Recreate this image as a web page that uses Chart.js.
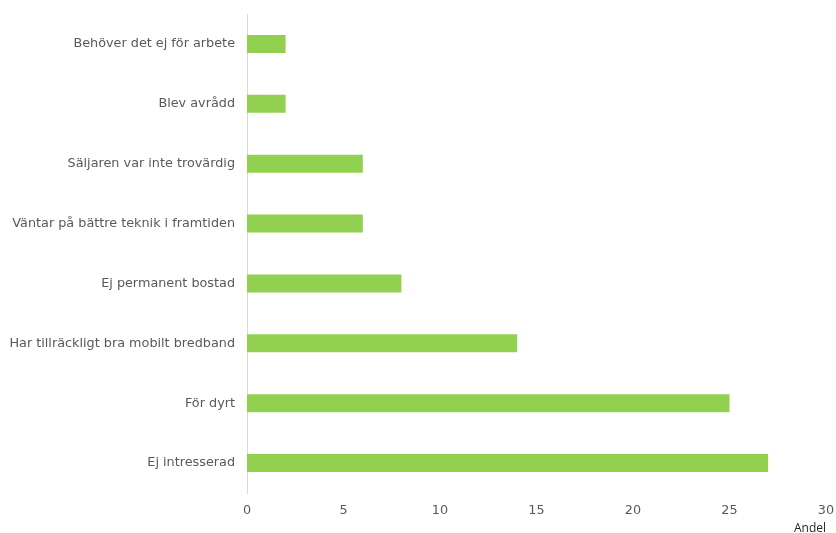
<!DOCTYPE html>
<html>
<head>
<meta charset="utf-8">
<script src="https://cdn.jsdelivr.net/npm/chart.js@4"></script>
<style>
  html, body { margin: 0; padding: 0; background: #fff; }
  #wrap { width: 836px; height: 533px; }
</style>
</head>
<body>
<div id="wrap"><canvas id="chart"></canvas></div>
<script>
// data
const categories = [
  "Behöver det ej för arbete",
  "Blev avrådd",
  "Säljaren var inte trovärdig",
  "Väntar på bättre teknik i framtiden",
  "Ej permanent bostad",
  "Har tillräckligt bra mobilt bredband",
  "För dyrt",
  "Ej intresserad"
];
const andel = [2, 2, 6, 6, 8, 14, 25, 27];
const xTicks = [0, 5, 10, 15, 20, 25, 30];

const labelFont = { family: "'DejaVu Sans', Verdana, sans-serif", size: 12.8 };

new Chart(document.getElementById("chart"), {
  type: "bar",
  data: {
    labels: categories,
    datasets: [{
      label: "Andel",
      data: andel,
      backgroundColor: "#92d050",
      barPercentage: 0.3,
      categoryPercentage: 1
    }]
  },
  options: {
    indexAxis: "y",
    responsive: true,
    maintainAspectRatio: false,
    animation: false,
    layout: { padding: { top: 14, right: 10, bottom: 0, left: 0 } },
    plugins: { legend: { display: false }, tooltip: { enabled: false } },
    scales: {
      x: {
        min: 0,
        max: 30,
        afterBuildTicks: (scale) => { scale.ticks = xTicks.map(v => ({ value: v })); },
        grid: { display: false, drawTicks: false },
        border: { display: false },
        ticks: { color: "#595959", font: labelFont, padding: 10 },
        title: {
          display: true,
          text: "Andel",
          align: "end",
          color: "#262626",
          font: { family: "'Open Sans', 'Liberation Sans', sans-serif", size: 12 },
          padding: { top: 3, bottom: -3 }
        },
        afterFit: (scale) => {
          scale.height = 40;
          scale.paddingLeft = 0;
          scale.paddingRight = 0;
        }
      },
      y: {
        grid: { display: false, drawTicks: false },
        border: { display: true, color: "#d9d9d9", width: 1 },
        ticks: { color: "#595959", font: labelFont, padding: 12 },
        afterFit: (scale) => {
          scale.width = 247;
          scale.paddingTop = 0;
          scale.paddingBottom = 0;
        }
      }
    }
  }
});
</script>
</body>
</html>
